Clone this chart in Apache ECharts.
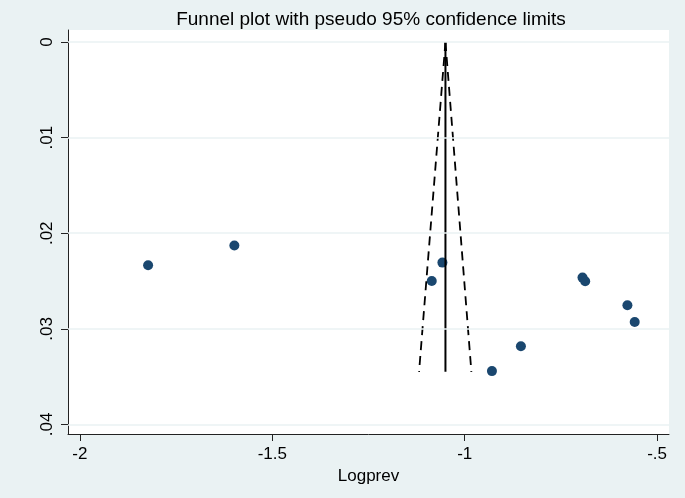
<!DOCTYPE html>
<html><head><meta charset="utf-8">
<script src="https://cdn.jsdelivr.net/npm/echarts@6/dist/echarts.min.js"></script>
<style>html,body{margin:0;padding:0;background:#EAF2F3;}#c{width:685px;height:498px;}</style>
</head><body><div id="c"></div>
<script>
// Study estimates (log prevalence) and standard errors
const logprev = [-1.8228, -1.5986, -1.0579, -1.0856, -0.9292, -0.8539, -0.6938, -0.6868, -0.5771, -0.5581];
const seLogprev = [0.02335, 0.02129, 0.02307, 0.02499, 0.03442, 0.03183, 0.02464, 0.02503, 0.02754, 0.02929];
// Pooled estimate line and pseudo 95% limits (endpoints as read)
const pooledX = [-1.050, -1.050];
const pooledY = [0, 0.0345];
const lowerX = [-1.050, -1.1186];
const upperX = [-1.050, -0.9826];
const limitY = [0, 0.0345];
const xTicks = [-2, -1.5, -1, -0.5];
const yTicks = [0, 0.01, 0.02, 0.03, 0.04];

const font = 'Liberation Sans, Arial, sans-serif';
const zip = (a, b) => a.map((v, i) => [v, b[i]]);
const fmtY = v => v === 0 ? '0' : String(v).replace(/^0/, '');
const fmtX = v => String(v).replace(/^-0\./, '-.');

const chart = echarts.init(document.getElementById('c'));
chart.setOption({
  backgroundColor: '#EAF2F3',
  animation: false,
  title: {
    text: 'Funnel plot with pseudo 95% confidence limits',
    left: 366, top: 5, textAlign: 'center',
    textStyle: {fontFamily: font, fontSize: 19, fontWeight: 'normal', color: '#000'}
  },
  grid: {left: 68, right: 16, top: 30, bottom: 64, show: true, backgroundColor: '#fff', borderWidth: 0},
  xAxis: {
    type: 'value', min: -2.031, max: -0.469,
    name: 'Logprev', nameLocation: 'middle', nameGap: 31,
    nameTextStyle: {fontFamily: font, fontSize: 17, color: '#000'},
    axisLine: {show: true, onZero: false, lineStyle: {color: '#222', width: 1}},
    axisTick: {show: true, length: 7, customValues: xTicks, lineStyle: {color: '#222'}},
    axisLabel: {customValues: xTicks, formatter: fmtX, fontFamily: font, fontSize: 17, color: '#000', margin: 12},
    splitLine: {show: false}
  },
  yAxis: {
    type: 'value', inverse: true, min: -0.00126, max: 0.041,
    axisLine: {show: true, onZero: false, lineStyle: {color: '#222', width: 1}},
    axisTick: {show: true, length: 7, customValues: yTicks, lineStyle: {color: '#222'}},
    axisLabel: {customValues: yTicks, formatter: fmtY, rotate: 90, fontFamily: font, fontSize: 17, color: '#000', margin: 12},
    splitLine: {show: false}
  },
  series: [
    {
      type: 'line', data: [], silent: true,
      markLine: {
        silent: true, symbol: 'none', label: {show: false},
        lineStyle: {color: '#EAF2F3', width: 1.5, type: 'solid'},
        data: yTicks.map(v => ({yAxis: v}))
      }
    },
    {type: 'line', data: zip(lowerX, limitY), symbol: 'none', lineStyle: {color: '#000', width: 1.8, type: [9, 6]}},
    {type: 'line', data: zip(upperX, limitY), symbol: 'none', lineStyle: {color: '#000', width: 1.8, type: [9, 6]}},
    {type: 'line', data: zip(pooledX, pooledY), symbol: 'none', lineStyle: {color: '#000', width: 2}},
    {type: 'scatter', data: zip(logprev, seLogprev), symbolSize: 10, itemStyle: {color: '#1A476F', opacity: 1}}
  ]
});
</script></body></html>
